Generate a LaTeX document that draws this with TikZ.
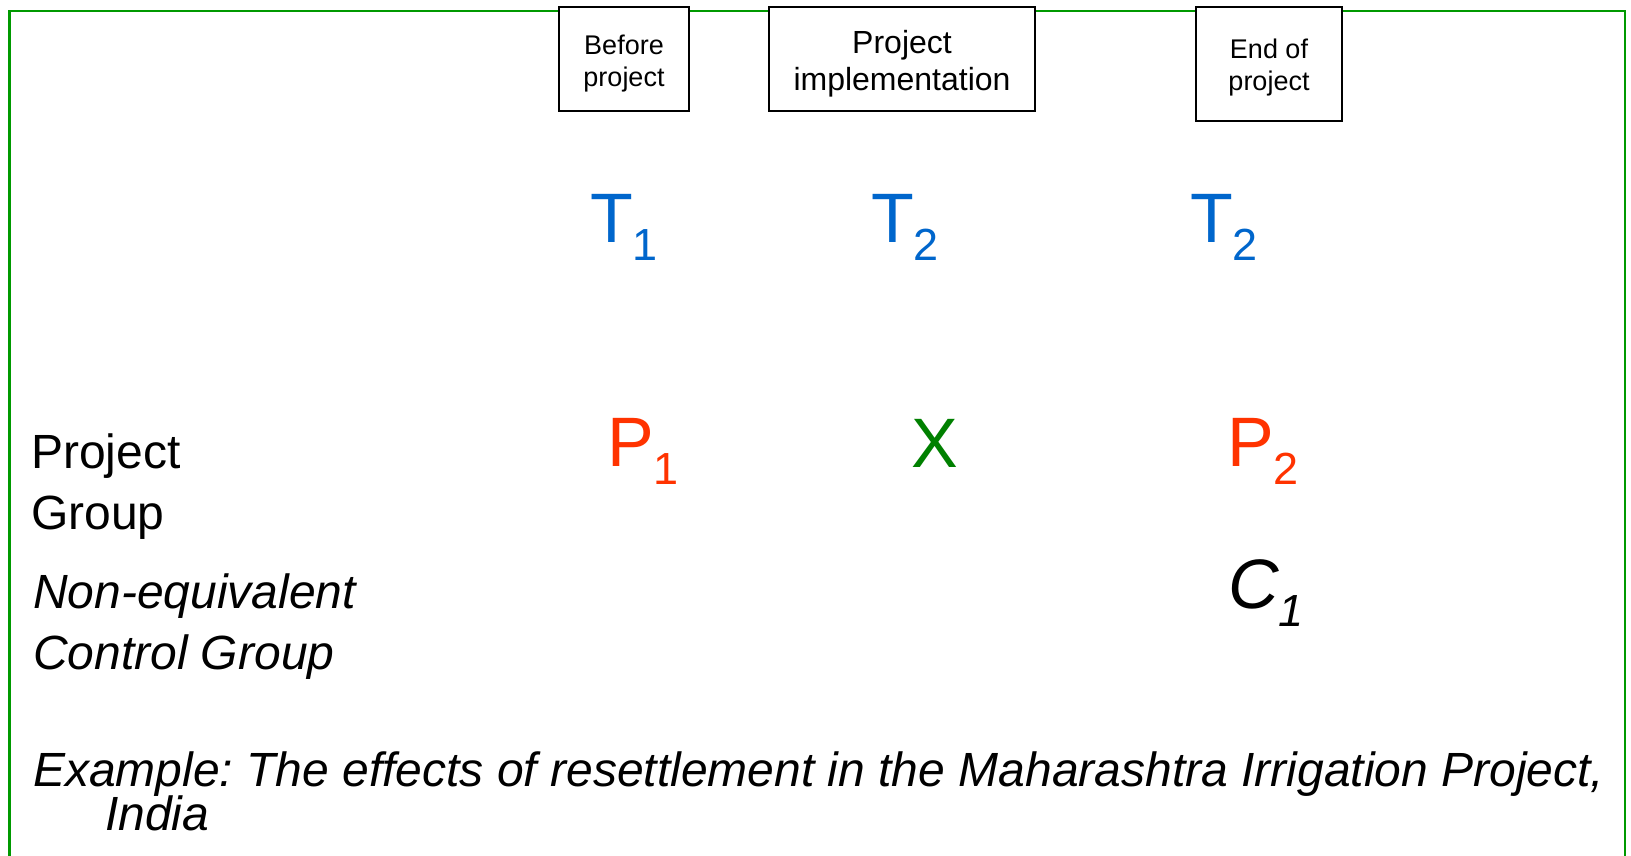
\documentclass[tikz,border=0pt]{standalone}
\usepackage{fontspec}
\setmainfont{Liberation Sans}
\definecolor{frameg}{RGB}{0,153,0}
\definecolor{tblue}{RGB}{0,102,204}
\definecolor{pred}{RGB}{255,51,0}
\definecolor{xgreen}{RGB}{0,128,0}
\newcommand\mysubscr[1]{\raisebox{-18pt}{\fontsize{45}{45}\selectfont #1}}
\frenchspacing
\begin{document}
\begin{tikzpicture}[x=1pt,y=-1pt,
  every node/.style={inner sep=0pt, outer sep=0pt},
  timebox/.style={draw=black, line width=2pt, fill=white},
  boxtext/.style={align=center, font=\fontsize{27}{32}\selectfont},
  bigsym/.style={anchor=base west, font=\fontsize{70}{70}\selectfont},
  sidetext/.style={anchor=base west, font=\fontsize{48}{58}\selectfont},
  sideital/.style={anchor=base west, font=\fontsize{48}{58}\selectfont\itshape}]
\useasboundingbox (0,0) rectangle (1631,855);
\begin{scope}
\clip (0,0) rectangle (1631,855);
\fill[white] (0,0) rectangle (1631,855);
\draw[frameg, line width=2.6pt] (9.5,870) -- (9.5,11) -- (1625,11) -- (1625,870);
\end{scope}
% top boxes
\node[timebox, minimum width=130pt, minimum height=104pt] (bbefore) at (624,59) {};
\node[boxtext] (tbefore) at (624,64) {Before\\project};
\node[timebox, minimum width=266pt, minimum height=104pt] (bimpl) at (902,59) {};
\node[boxtext, font=\fontsize{32}{37}\selectfont] (timpl) at (902,63.5) {Project\\implementation};
\node[timebox, minimum width=146pt, minimum height=114pt] (bend) at (1269,64) {};
\node[boxtext] (tend) at (1269,68) {End of\\project};
% time symbols
\node[bigsym, text=tblue] (t1) at (590,242) {T\mysubscr{1}};
\node[bigsym, text=tblue] (t2a) at (871,242) {T\mysubscr{2}};
\node[bigsym, text=tblue] (t2b) at (1190,242) {T\mysubscr{2}};
% observations
\node[bigsym, text=pred] (p1) at (607,466) {P\mysubscr{1}};
\node[bigsym, text=xgreen] (x) at (911,467) {X};
\node[bigsym, text=pred] (p2) at (1227,466) {P\mysubscr{2}};
\node[bigsym, text=black, font=\fontsize{70}{70}\selectfont\itshape] (c1) at (1228,608) {C\mysubscr{1}};
% side labels
\node[sidetext] (pg1) at (31,468) {Project};
\node[sidetext] (pg2) at (31,529) {Group};
\node[sideital] (cg1) at (33,608) {Non-equivalent};
\node[sideital] (cg2) at (33,669) {Control Group};
% example
\node[sideital] (ex1) at (33,786) {Example: The effects of resettlement in the Maharashtra Irrigation Project,};
\node[sideital] (ex2) at (105,830) {India};
\end{tikzpicture}
\end{document}
